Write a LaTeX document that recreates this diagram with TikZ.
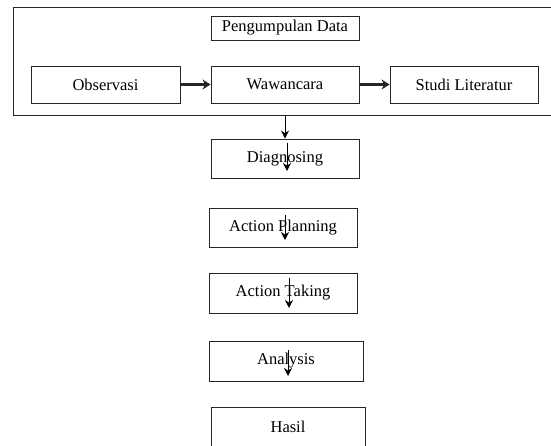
\documentclass[tikz,border=0pt]{standalone}
\usepackage{fontspec}
\setmainfont{Liberation Serif}
\usetikzlibrary{arrows.meta}
\usetikzlibrary{positioning}

\begin{document}
\begin{tikzpicture}[x=1pt,y=-1pt,>={Stealth[length=8pt,width=8pt]},
  step box/.style={draw=black!85,line width=0.9pt,inner sep=0pt,
    minimum width=148pt,minimum height=38pt,font=\fontsize{16.5}{19}\selectfont},
  flow/.style={-{Stealth[length=8pt,width=10pt]},line width=2.2pt,draw=black!85},
  down/.style={->,line width=1pt}]
  \useasboundingbox (0,0) rectangle (551,446);

  % kotak pengumpulan data
  \node[draw=black!85,line width=0.9pt,minimum width=548pt,minimum height=108pt] (frame) at (287,61) {};
  \node[step box,minimum height=24pt] (kumpul) at (285,28) {Pengumpulan Data};

  \node[step box,minimum width=149pt,minimum height=37pt] (obs) at (105.5,84.5) {Observasi};
  \node[step box,minimum height=37pt] (waw) at (285,84.5) {Wawancara};
  \node[step box,minimum height=37pt] (studi) at (464,84.5) {Studi Literatur};

  \path (obs) edge[flow] (waw)
        (waw) edge[flow] (studi);

  % tahapan
  \node[step box,minimum height=39pt] (diag) at (285,158.5) {Diagnosing};
  \node[step box,minimum height=39pt] (plan) at (283,227.5) {Action Planning};
  \node[step box,minimum height=40pt] (take) at (283,293) {Action Taking};
  \node[step box,minimum width=154pt,minimum height=40pt] (anal) at (286,361) {Analysis};
  \node[step box,minimum width=154pt,minimum height=39pt] (hasil) at (288,426.5) {Hasil};

  \draw[down] (frame.south -| diag.north) -- (diag.north);

  \coordinate (d1) at (287,143);
  \coordinate (d2) at (287,171);
  \coordinate (p1) at (285,215);
  \coordinate (p2) at (285,240);
  \coordinate (t1) at (289,278);
  \coordinate (t2) at (289,308);
  \coordinate (a1) at (288,350);
  \coordinate (a2) at (288,376);

  \draw[down] (d1) -- (d2);
  \draw[down] (p1) -- (p2);
  \draw[down] (t1) -- (t2);
  \draw[down] (a1) -- (a2);
\end{tikzpicture}
\end{document}
